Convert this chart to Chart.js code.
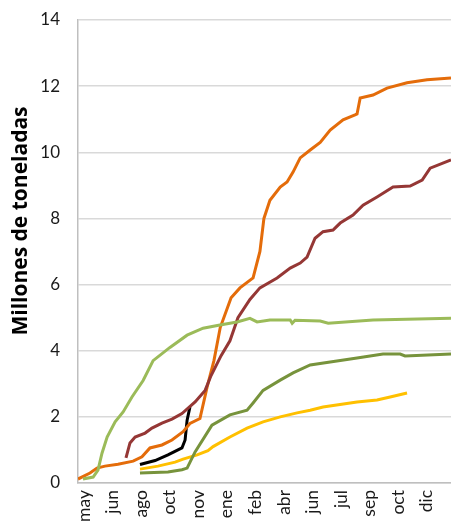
<!DOCTYPE html>
<html>
<head>
<meta charset="utf-8">
<script src="https://cdn.jsdelivr.net/npm/chart.js@4.4.1/dist/chart.umd.min.js"></script>
<style>
  html, body { margin: 0; padding: 0; background: #fff; }
  #wrap { width: 451px; height: 529px; }
</style>
</head>
<body>
<div id="wrap"><canvas id="chart" width="451" height="529"></canvas></div>
<script>
// Month labels along the x axis (one per tick, index = x position)
const monthLabels = ['may', 'jun', 'ago', 'oct', 'nov', 'ene', 'feb', 'abr', 'jun', 'jul', 'sep', 'oct', 'dic'];
const yTicks = [0, 2, 4, 6, 8, 10, 12, 14];
const yTitle = 'Millones de toneladas';

// Series as [x (tick index), millions of tonnes]
const orange = [[-0.21,0.12],[0.21,0.3],[0.455,0.45],[0.735,0.51],[1.19,0.57],[1.72,0.66],[2.03,0.79],[2.31,1.06],[2.73,1.15],[3.08,1.3],[3.47,1.55],[3.71,1.8],[4.06,1.95],[4.31,2.9],[4.55,3.7],[4.77,4.7],[5.15,5.6],[5.46,5.9],[5.92,6.2],[6.16,7.0],[6.3,8.0],[6.51,8.55],[6.87,8.95],[7.11,9.1],[7.32,9.4],[7.57,9.83],[7.92,10.07],[8.27,10.3],[8.62,10.67],[9.07,10.98],[9.49,11.13],[9.56,11.16],[9.67,11.64],[10.12,11.73],[10.61,11.94],[11.31,12.1],[12.01,12.19],[12.85,12.25]];
const maroon = [[1.47,0.76],[1.61,1.21],[1.79,1.39],[2.14,1.51],[2.38,1.66],[2.73,1.81],[3.08,1.93],[3.43,2.1],[3.89,2.45],[4.24,2.8],[4.45,3.25],[4.8,3.85],[5.11,4.3],[5.39,5.0],[5.81,5.55],[6.16,5.9],[6.76,6.2],[7.22,6.5],[7.57,6.65],[7.81,6.83],[8.09,7.4],[8.37,7.6],[8.72,7.65],[8.97,7.86],[9.42,8.1],[9.77,8.4],[10.26,8.65],[10.82,8.95],[11.42,8.98],[11.84,9.16],[12.12,9.52],[12.85,9.77]];
const lightGreen = [[-0.035,0.12],[0.32,0.18],[0.49,0.39],[0.63,0.9],[0.81,1.39],[1.09,1.85],[1.37,2.15],[1.68,2.6],[2.07,3.1],[2.42,3.7],[3.01,4.1],[3.61,4.47],[4.17,4.68],[4.76,4.78],[5.36,4.87],[5.81,4.98],[6.06,4.87],[6.51,4.93],[7.22,4.93],[7.29,4.83],[7.39,4.92],[8.27,4.9],[8.55,4.83],[10.12,4.93],[12.85,4.98]];
const darkGreen = [[1.96,0.3],[2.94,0.33],[3.43,0.4],[3.61,0.45],[3.89,0.94],[4.48,1.75],[5.11,2.06],[5.71,2.2],[5.92,2.42],[6.27,2.8],[6.87,3.11],[7.32,3.33],[7.92,3.57],[8.62,3.66],[9.56,3.78],[10.47,3.9],[11.07,3.9],[11.24,3.84],[12.85,3.9]];
const yellow = [[1.96,0.42],[2.59,0.51],[3.19,0.63],[3.47,0.72],[3.96,0.85],[4.34,0.98],[4.52,1.1],[5.11,1.39],[5.71,1.66],[6.27,1.85],[6.87,2.0],[7.46,2.12],[7.92,2.2],[8.37,2.3],[9.56,2.45],[10.26,2.51],[10.72,2.6],[11.31,2.72]];
const black = [[1.96,0.56],[2.49,0.68],[2.94,0.85],[3.43,1.06],[3.54,1.3],[3.61,1.9],[3.71,2.3]];

const toPoints = arr => arr.map(p => ({ x: p[0], y: p[1] }));

function series(data, color) {
  return { data: toPoints(data), borderColor: color, borderWidth: 3, pointRadius: 0, tension: 0, fill: false };
}

const FONT = 'Lato';

// Axis title drawn by hand: in the original it sits above the plot's centre
const titlePlugin = {
  id: 'yTitle',
  afterDraw(chart) {
    const ctx = chart.ctx;
    ctx.save();
    ctx.translate(21, 221);
    ctx.rotate(-Math.PI / 2);
    ctx.font = 'bold 21px "Open Sans"';
    ctx.fillStyle = '#000';
    ctx.textAlign = 'center';
    ctx.textBaseline = 'middle';
    ctx.fillText(yTitle, 0, 0);
    ctx.restore();
  }
};

new Chart(document.getElementById('chart').getContext('2d'), {
  type: 'line',
  data: {
    datasets: [
      series(lightGreen, '#9bbb59'),
      series(darkGreen, '#77933c'),
      series(yellow, '#ffc000'),
      series(maroon, '#953735'),
      series(orange, '#e46c0a'),
      series(black, '#000000')
    ]
  },
  plugins: [titlePlugin],
  options: {
    responsive: false,
    animation: false,
    layout: { padding: { top: 20, right: 0, left: 0, bottom: 0 } },
    plugins: { legend: { display: false }, tooltip: { enabled: false } },
    scales: {
      x: {
        type: 'linear',
        min: -0.21,
        max: 12.85,
        afterBuildTicks: s => { s.ticks = monthLabels.map((_, i) => ({ value: i })); },
        afterFit: s => { s.height = 46; s.paddingLeft = 0; s.paddingRight = 0; },
        grid: { display: false, drawTicks: false },
        border: { display: true, color: '#bfbfbf', width: 1.5 },
        ticks: {
          autoSkip: false,
          maxRotation: 90,
          minRotation: 90,
          padding: 7,
          color: '#1a1a1a',
          font: { family: FONT, size: 17.5 },
          callback: v => monthLabels[v]
        }
      },
      y: {
        min: 0,
        max: 14,
        afterBuildTicks: s => { s.ticks = yTicks.map(v => ({ value: v })); },
        afterFit: s => { s.width = 78; s.paddingTop = 0; s.paddingBottom = 0; },
        grid: { color: '#d9d9d9', lineWidth: 1.5, drawTicks: false },
        border: { display: true, color: '#bfbfbf', width: 1.5 },
        ticks: { padding: 18, color: '#1a1a1a', font: { family: FONT, size: 17 } }
      }
    }
  }
});
</script>
</body>
</html>
